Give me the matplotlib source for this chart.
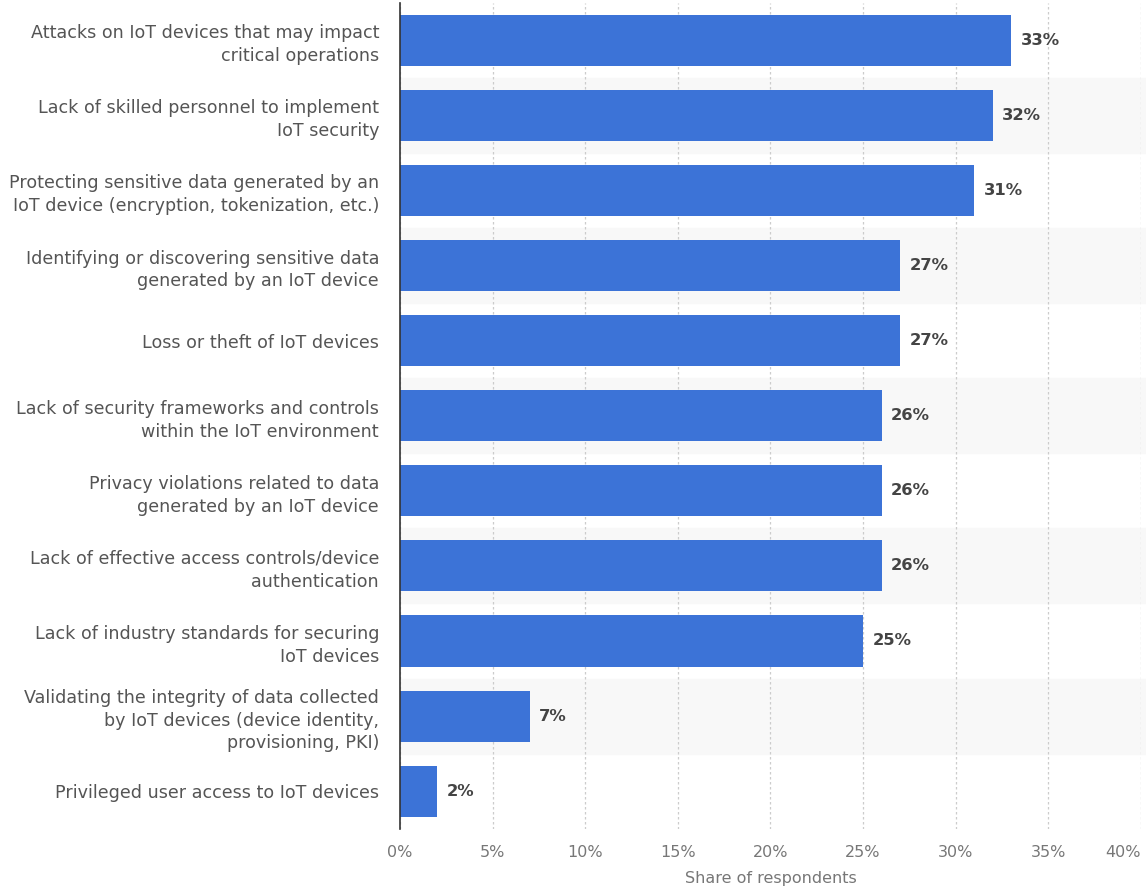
import matplotlib.pyplot as plt
import numpy as np

categories = [
    "Attacks on IoT devices that may impact\ncritical operations",
    "Lack of skilled personnel to implement\nIoT security",
    "Protecting sensitive data generated by an\nIoT device (encryption, tokenization, etc.)",
    "Identifying or discovering sensitive data\ngenerated by an IoT device",
    "Loss or theft of IoT devices",
    "Lack of security frameworks and controls\nwithin the IoT environment",
    "Privacy violations related to data\ngenerated by an IoT device",
    "Lack of effective access controls/device\nauthentication",
    "Lack of industry standards for securing\nIoT devices",
    "Validating the integrity of data collected\nby IoT devices (device identity,\nprovisioning, PKI)",
    "Privileged user access to IoT devices",
]
values = [33, 32, 31, 27, 27, 26, 26, 26, 25, 7, 2]
xticks = [0, 5, 10, 15, 20, 25, 30, 35, 40]

fig = plt.figure(figsize=(11.46, 8.93), dpi=100)
ax = fig.add_axes([0.349, 0.072, 0.6466, 0.925])

n = len(categories)
y = np.arange(n)

# alternating row stripes
for i in range(n):
    if i % 2 == 1:
        ax.axhspan(i - 0.5, i + 0.5, xmax=1.01, color="#f8f8f8", zorder=0, clip_on=False)

ax.barh(y, values, height=0.68, color="#3c73d7", zorder=3)

for yi, v in zip(y, values):
    ax.text(v + 0.5, yi, f"{v}%", va="center", ha="left",
            fontsize=11.8, fontweight="bold", color="#444444", zorder=4)

ax.set_xlim(0, 40)
ax.set_ylim(n - 0.5, -0.5)
ax.set_yticks(y)
ax.set_yticklabels(categories, fontsize=12.6, color="#555555", linespacing=1.35)
ax.set_xticks(xticks)
ax.set_xticklabels([f"{t}%" for t in xticks], fontsize=11.5, color="#777777")
ax.get_xticklabels()[-1].set_horizontalalignment("right")
ax.tick_params(axis="both", length=0)
ax.tick_params(axis="y", pad=15)
ax.tick_params(axis="x", pad=12)

ax.grid(axis="x", linestyle=(0, (2, 2)), color="#cccccc", linewidth=0.9, zorder=1)
for s in ["top", "right", "bottom"]:
    ax.spines[s].set_visible(False)
ax.spines["left"].set_color("#333333")
ax.spines["left"].set_linewidth(1.2)
ax.spines["left"].set_zorder(5)

ax.set_xlabel("Share of respondents", fontsize=11.5, color="#777777", labelpad=8)

fig.savefig("out.png", dpi=100)
